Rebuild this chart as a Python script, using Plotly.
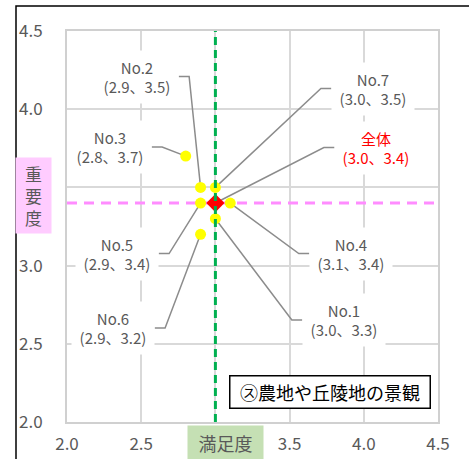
import plotly.graph_objects as go

# ---- data ----
item_labels = ["No.1", "No.2", "No.3", "No.4", "No.5", "No.6", "No.7"]
satisfaction = [3.0, 2.9, 2.8, 3.1, 2.9, 2.9, 3.0]
importance = [3.3, 3.5, 3.7, 3.4, 3.4, 3.2, 3.5]
overall_label = "全体"
overall_satisfaction = 3.0
overall_importance = 3.4
axis_ticks = [2.0, 2.5, 3.0, 3.5, 4.0, 4.5]
# tick labels hidden under the axis-title boxes in the original are left blank
x_tick_labels = ["2.0", "2.5", "", "3.5", "4.0", "4.5"]
y_tick_labels = ["2.0", "2.5", "3.0", "", "4.0", "4.5"]
chart_title = "㋜農地や丘陵地の景観"
x_title = "満足度"
y_title = "重要度"

# ---- label layout (label box centres, data units) ----
label_cx = [3.865, 2.473, 2.291, 3.912, 2.338, 2.311, 4.061]
label_cy = [2.652, 4.209, 3.758, 3.077, 3.077, 2.601, 4.132]
overall_cx, overall_cy = 4.081, 3.755

FONT = "Noto Sans CJK JP, Noto Sans, sans-serif"
GRAY = "#595959"
W, H = 469, 459
ML, MR, MT, MB = 67, 31, 31, 37
PW, PH = W - ML - MR, H - MT - MB


def px_x(p):
    return (p - ML) / PW


def px_y(p):
    return (H - MB - p) / PH


half_w = 0.28
elbow = 0.07

fig = go.Figure()

# horizontal mean line (importance)
fig.add_trace(go.Scatter(x=[2.0, 4.5], y=[overall_importance] * 2, mode="lines",
                         line=dict(color="#ff8cff", width=3, dash="10px,7px"),
                         hoverinfo="skip", showlegend=False))

# leader lines
all_x = satisfaction + [overall_satisfaction]
all_y = importance + [overall_importance]
all_cx = label_cx + [overall_cx]
all_cy = label_cy + [overall_cy]
for px_, py_, cx, cy in zip(all_x, all_y, all_cx, all_cy):
    if cx > px_:
        s = cx - half_w
        e = s - elbow
    else:
        s = cx + half_w
        e = s + elbow
    fig.add_trace(go.Scatter(x=[s, e, px_], y=[cy, cy, py_], mode="lines",
                             line=dict(color="#8c8c8c", width=1.5),
                             hoverinfo="skip", showlegend=False))

# item points
fig.add_trace(go.Scatter(x=satisfaction, y=importance, mode="markers",
                         marker=dict(color="#ffff00", size=11, line=dict(width=0)),
                         showlegend=False))
# overall point
fig.add_trace(go.Scatter(x=[overall_satisfaction], y=[overall_importance], mode="markers",
                         marker=dict(color="#ff0000", size=14, symbol="diamond", line=dict(width=0)),
                         showlegend=False))

# vertical mean line (satisfaction)
fig.add_trace(go.Scatter(x=[overall_satisfaction] * 2, y=[2.0, 4.5], mode="lines",
                         line=dict(color="#00b050", width=3, dash="8px,5px"),
                         hoverinfo="skip", showlegend=False))

annotations = []
for name, x, y, cx, cy in zip(item_labels, satisfaction, importance, label_cx, label_cy):
    annotations.append(dict(x=cx, y=cy, xref="x", yref="y", showarrow=False,
                            text=f"{name}<br>({x:.1f}、{y:.1f})",
                            font=dict(family=FONT, size=15, color=GRAY),
                            bgcolor="white", width=80, height=50,
                            xanchor="center", yanchor="middle"))
annotations.append(dict(x=overall_cx, y=overall_cy, xref="x", yref="y", showarrow=False,
                        text=f"{overall_label}<br>({overall_satisfaction:.1f}、{overall_importance:.1f})",
                        font=dict(family=FONT, size=15, color="#ff0000"),
                        bgcolor="white", width=76, height=50,
                        xanchor="center", yanchor="middle"))
# axis titles
annotations.append(dict(x=px_x(225.5), y=px_y(443), xref="paper", yref="paper", showarrow=False,
                        text=x_title, font=dict(family=FONT, size=18, color=GRAY),
                        bgcolor="#c5e0b4", width=73, height=32,
                        xanchor="center", yanchor="middle"))
annotations.append(dict(x=px_x(33.5), y=px_y(195.5), xref="paper", yref="paper", showarrow=False,
                        text="<br>".join(list(y_title)), font=dict(family=FONT, size=17, color=GRAY),
                        bgcolor="#ffccff", width=33, height=73,
                        xanchor="center", yanchor="middle"))
# chart title box
annotations.append(dict(x=px_x(330), y=px_y(392), xref="paper", yref="paper", showarrow=False,
                        text=chart_title, font=dict(family=FONT, size=18, color="#000000"),
                        bgcolor="white", bordercolor="#000000", borderwidth=1.5,
                        width=197, height=29, xanchor="center", yanchor="middle"))

shapes = [dict(type="rect", xref="paper", yref="paper",
               x0=px_x(16), x1=px_x(520), y0=px_y(510), y1=px_y(6),
               line=dict(color="#000000", width=1.5), fillcolor="rgba(0,0,0,0)", layer="below")]

axis_common = dict(range=[2.0, 4.5], tickvals=axis_ticks,
                   showgrid=True, gridcolor="#d9d9d9", gridwidth=2,
                   showline=True, linecolor="#d0d0d0", linewidth=2, mirror=True,
                   zeroline=False, automargin=False,
                   tickfont=dict(family=FONT, size=17, color=GRAY), fixedrange=True)

fig.update_layout(
    width=W, height=H,
    margin=dict(l=ML, r=MR, t=MT, b=MB, pad=0, autoexpand=False),
    paper_bgcolor="white", plot_bgcolor="white",
    xaxis=dict(**axis_common, ticktext=x_tick_labels,
               ticks="outside", ticklen=6, tickcolor="rgba(0,0,0,0)"),
    yaxis=dict(**axis_common, ticktext=y_tick_labels,
               ticks="outside", ticklen=19, tickcolor="rgba(0,0,0,0)"),
    annotations=annotations, shapes=shapes,
    showlegend=False,
)

fig.write_html("out.html", config={"displayModeBar": False},
               post_script="document.body.style.margin='0';document.body.style.overflow='hidden';")
